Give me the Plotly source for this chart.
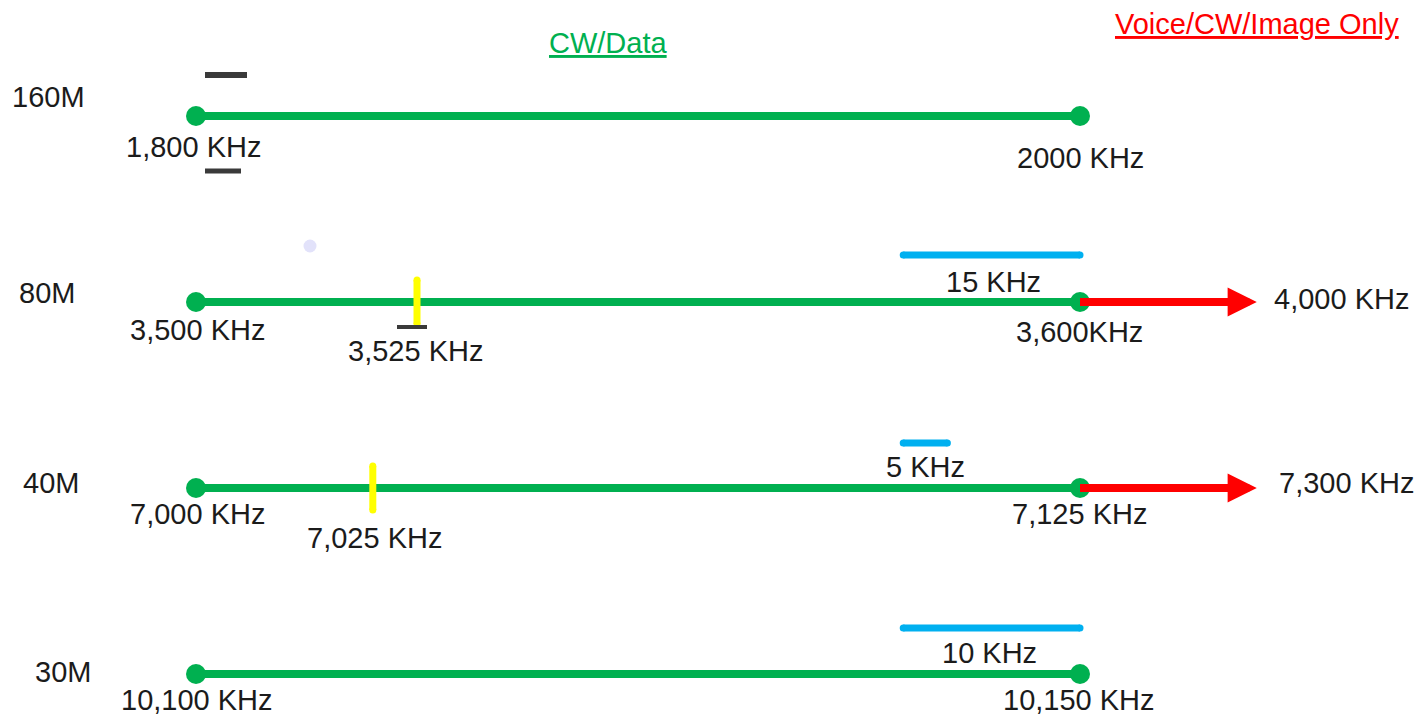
import plotly.graph_objects as go

# ---------------- data ----------------
bands = ["160M", "80M", "40M", "30M"]
start_khz = [1800, 3500, 7000, 10100]
end_khz = [2000, 3600, 7125, 10150]
start_labels = ["1,800 KHz", "3,500 KHz", "7,000 KHz", "10,100 KHz"]
end_labels = ["2000 KHz", "3,600KHz", "7,125 KHz", "10,150 KHz"]
voice_bands = ["80M", "40M"]
voice_end_khz = [4000, 7300]
voice_labels = ["4,000 KHz", "7,300 KHz"]
mark_bands = ["80M", "40M"]
mark_khz = [3525, 7025]
mark_labels = ["3,525 KHz", "7,025 KHz"]
spacing_bands = ["80M", "40M", "30M"]
spacing_labels = ["15 KHz", "5 KHz", "10 KHz"]
header_labels = ["CW/Data", "Voice/CW/Image Only"]

# ---------------- style / geometry ----------------
W, H = 1422, 715
X0_PX, X1_PX = 196, 1080          # where a band's start / end fall
ROW_PX0, ROW_STEP = 116, 186       # first row line, row spacing
UX = 1.0 / (X1_PX - X0_PX)
UY = 1.0 / ROW_STEP
FONT = "Liberation Sans, Arial, sans-serif"
FS = 29
TXT = "#1b1b1b"
GREEN = "#00b050"
RED = "#ff0000"
BLUE = "#00b0f0"
YELLOW = "#ffff00"
DARK = "#3a3a3a"
TEXT_DY = 0                        # correction: box middle vs cap centre

ARROW_LEN = 0.2                    # arrow length beyond band end (fraction)
SPAN = {"80M": (0.8, 1.0), "40M": (0.8, 0.85), "30M": (0.8, 1.0)}
SPAN_DY = {"80M": -47, "40M": -45, "30M": -46}


def px_x(px):
    return (px - X0_PX) * UX


def px_y(py):
    return (py - ROW_PX0) * UY


def row(b):
    return bands.index(b)


def frac(b, khz):
    i = row(b)
    return (khz - start_khz[i]) / (end_khz[i] - start_khz[i])


fig = go.Figure()
ann = []


def label(x, y, text, dx=0, dy=0, xanchor="center", color=TXT, size=FS):
    ann.append(dict(x=x, y=y, xref="x", yref="y", text=text, showarrow=False,
                    xanchor=xanchor, yanchor="middle", xshift=dx,
                    yshift=-(dy + TEXT_DY),
                    font=dict(family=FONT, size=size, color=color)))


# green CW/Data bands
for i, b in enumerate(bands):
    xs = [frac(b, start_khz[i]), frac(b, end_khz[i])]
    fig.add_trace(go.Scatter(x=xs, y=[i, i], mode="lines+markers",
                             line=dict(color=GREEN, width=8),
                             marker=dict(color=GREEN, size=20),
                             hoverinfo="skip"))

# red voice extensions
for b, khz in zip(voice_bands, voice_end_khz):
    i = row(b)
    x_end = 1.0
    fig.add_trace(go.Scatter(x=[x_end, x_end + ARROW_LEN * 0.5], y=[i, i],
                             mode="lines", line=dict(color=RED, width=8),
                             hoverinfo="skip"))
    ann.append(dict(x=x_end + ARROW_LEN, y=i, ax=x_end, ay=i,
                    xref="x", yref="y", axref="x", ayref="y", text="",
                    showarrow=True, arrowhead=2, arrowsize=0.73,
                    arrowwidth=8, arrowcolor=RED, standoff=0))

# yellow sub-band marks
for b, khz in zip(mark_bands, mark_khz):
    i = row(b)
    x = frac(b, khz)
    fig.add_trace(go.Scatter(x=[x, x], y=[i - 22 * UY, i + 22 * UY],
                             mode="lines+markers",
                             line=dict(color=YELLOW, width=7),
                             marker=dict(color=YELLOW, size=7),
                             hoverinfo="skip"))

# blue spacing bars
for b in spacing_bands:
    i = row(b)
    x0, x1 = SPAN[b]
    yy = i + SPAN_DY[b] * UY
    fig.add_trace(go.Scatter(x=[x0, x1], y=[yy, yy], mode="lines+markers",
                             line=dict(color=BLUE, width=7),
                             marker=dict(color=BLUE, size=7),
                             hoverinfo="skip"))

# small dark strokes (decoration)
decor = [  # (band, anchor fraction, dx0, dx1, dy, width)
    ("160M", 0.0, 9, 51, -41, 6),
    ("160M", 0.0, 9, 45, 55, 5),
    ("80M", frac("80M", 3525), -20, 10, 25, 4),
]
for b, f, d0, d1, dy, w in decor:
    i = row(b)
    fig.add_trace(go.Scatter(x=[f + d0 * UX, f + d1 * UX],
                             y=[i + dy * UY, i + dy * UY], mode="lines",
                             line=dict(color=DARK, width=w), hoverinfo="skip"))

# faint lavender dot
fig.add_trace(go.Scatter(x=[px_x(310)], y=[row("80M") - 56 * UY],
                         mode="markers",
                         marker=dict(color="#e2e2fa", size=13),
                         hoverinfo="skip"))

# ---------------- texts ----------------
row_label_px = [(48, -19), (47, -9), (51, -5), (63, -2)]
start_off = [(-3, 31), (1, 28), (1, 26), (1, 26)]
end_off = [(0, 42), (-1, 30), (-1, 26), (-1, 26)]
for i, b in enumerate(bands):
    px, dy = row_label_px[i]
    label(px_x(px), i, b, dy=dy)
    label(0.0, i, start_labels[i], dx=start_off[i][0], dy=start_off[i][1])
    label(1.0, i, end_labels[i], dx=end_off[i][0], dy=end_off[i][1])

voice_off = [(15, -3), (20, -5)]
for k, b in enumerate(voice_bands):
    label(1.0 + ARROW_LEN, row(b), voice_labels[k], dx=voice_off[k][0],
          dy=voice_off[k][1], xanchor="left")

mark_off = [(-2, 49), (2, 50)]
for k, b in enumerate(mark_bands):
    label(frac(b, mark_khz[k]), row(b), mark_labels[k], dx=mark_off[k][0],
          dy=mark_off[k][1])

spacing_off = [(1.5, -20), (0, -21), (-2.5, -21)]
for k, b in enumerate(spacing_bands):
    x0, x1 = SPAN[b]
    label((x0 + x1) / 2, row(b), spacing_labels[k], dx=spacing_off[k][0],
          dy=spacing_off[k][1])

label(px_x(608), px_y(43), "<u>" + header_labels[0] + "</u>", color=GREEN)
label(px_x(1257), px_y(24), "<u>" + header_labels[1] + "</u>", color=RED)

fig.update_layout(
    width=W, height=H, autosize=False,
    margin=dict(l=0, r=0, t=0, b=0),
    paper_bgcolor="white", plot_bgcolor="white",
    showlegend=False,
    xaxis=dict(range=[-X0_PX * UX, (W - X0_PX) * UX], visible=False,
               fixedrange=True),
    yaxis=dict(range=[(H - ROW_PX0) * UY, -ROW_PX0 * UY], visible=False,
               fixedrange=True),
    annotations=ann,
)

fig.write_html("out.html",
               config={"displayModeBar": False},
               post_script="document.body.style.margin='0';"
                           "document.body.style.overflow='hidden';")
